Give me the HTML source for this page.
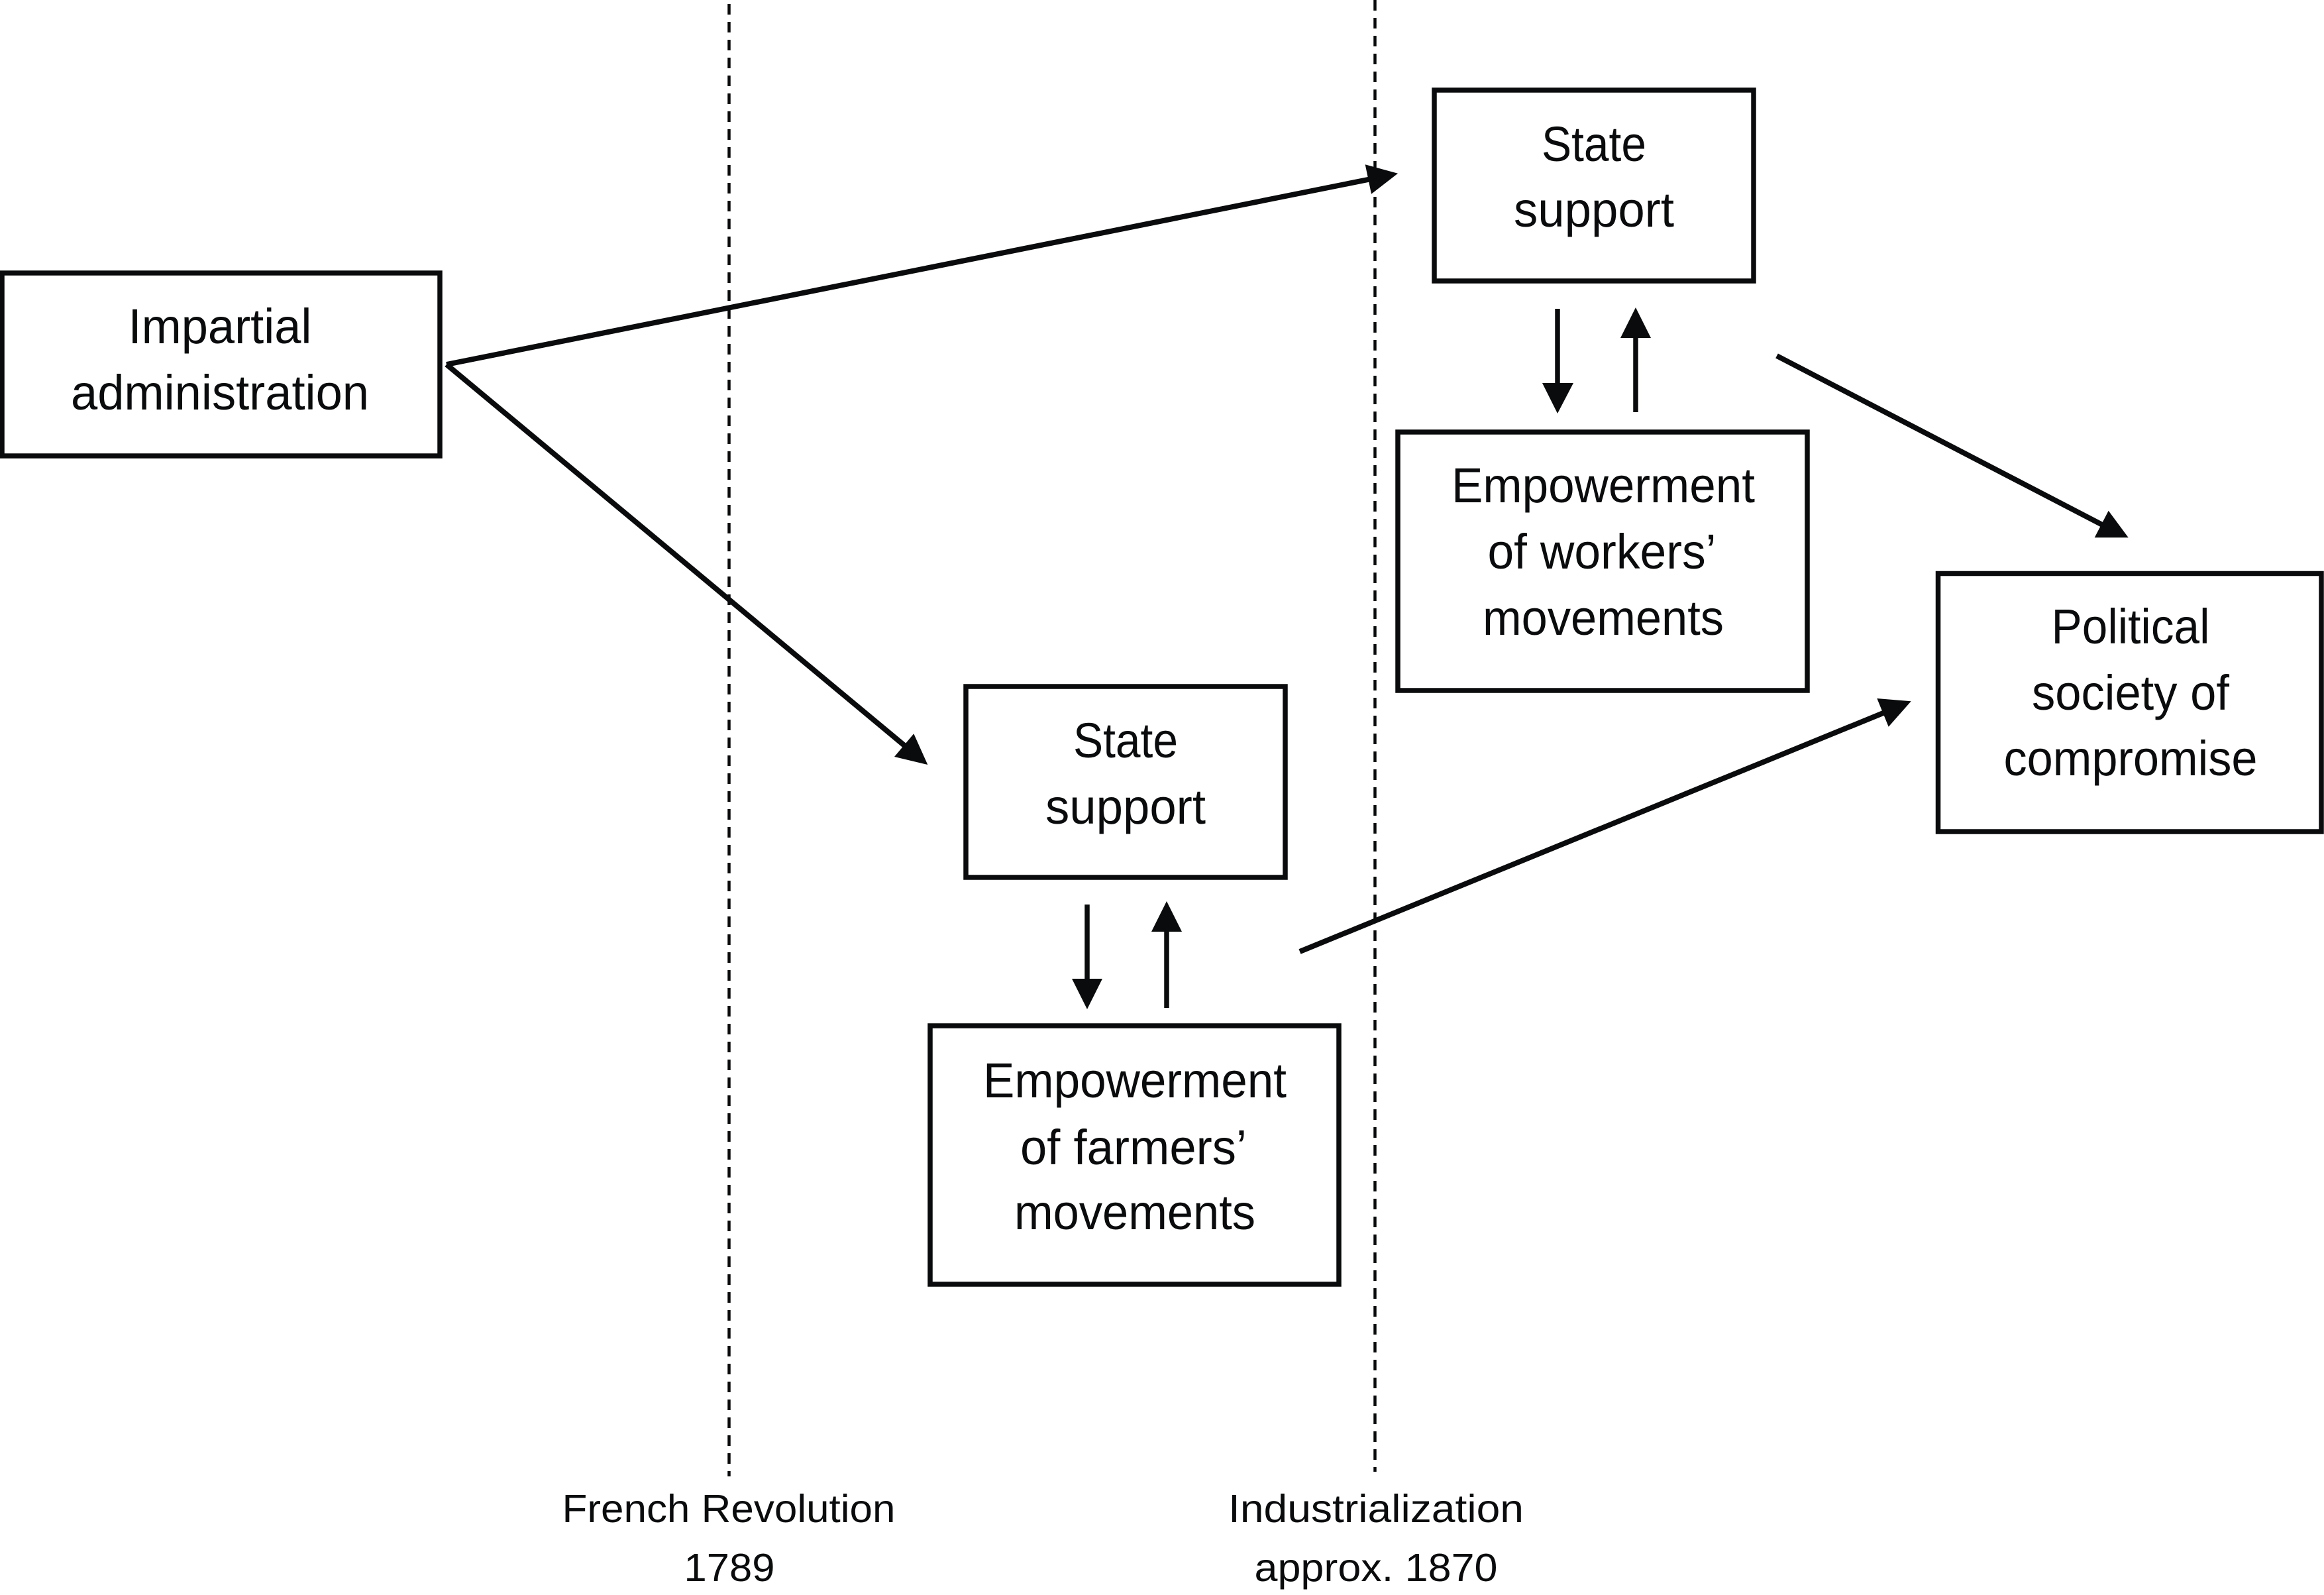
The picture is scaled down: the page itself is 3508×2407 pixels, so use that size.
<!DOCTYPE html>
<html>
<head>
<meta charset="utf-8">
<style>
html,body{margin:0;padding:0;background:#fff;width:3508px;height:2407px;overflow:hidden}
svg{display:block}
text{font-family:"Liberation Sans",sans-serif;fill:#0a0b0c;text-anchor:middle}
.a{font-size:74px}
.b{font-size:59px}
rect{fill:#fff;stroke:#0a0b0c;stroke-width:7.5}
.l{stroke:#0a0b0c;stroke-width:8;fill:none}
.v{stroke:#0a0b0c;stroke-width:7.5;fill:none}
.h{fill:#0a0b0c;stroke:none}
.d{stroke:#0a0b0c;stroke-width:4.5;stroke-dasharray:16 11;fill:none}
</style>
</head>
<body>
<svg width="3508" height="2407" viewBox="0 0 3508 2407" xmlns="http://www.w3.org/2000/svg">
<line class="d" x1="1100.5" y1="0" x2="1100.5" y2="2228" stroke-dashoffset="-6"/>
<line class="d" x1="2075.5" y1="0" x2="2075.5" y2="2221"/>

<rect x="3" y="412" width="661" height="276"/>
<rect x="2165" y="136" width="482" height="288"/>
<rect x="2110" y="652" width="618" height="390"/>
<rect x="1458" y="1036" width="482" height="288"/>
<rect x="1404" y="1548" width="617" height="390"/>
<rect x="2925.5" y="865.5" width="578.5" height="389.5"/>

<text class="a" x="332" y="518" textLength="277" lengthAdjust="spacingAndGlyphs">Impartial</text>
<text class="a" x="332" y="618" textLength="450" lengthAdjust="spacingAndGlyphs">administration</text>
<text class="a" x="2406" y="243" textLength="158" lengthAdjust="spacingAndGlyphs">State</text>
<text class="a" x="2406" y="342" textLength="242" lengthAdjust="spacingAndGlyphs">support</text>
<text class="a" x="2420" y="758" textLength="458" lengthAdjust="spacingAndGlyphs">Empowerment</text>
<text class="a" x="2418" y="858" textLength="345" lengthAdjust="spacingAndGlyphs">of workers’</text>
<text class="a" x="2420" y="958" textLength="364" lengthAdjust="spacingAndGlyphs">movements</text>
<text class="a" x="1699" y="1143" textLength="158" lengthAdjust="spacingAndGlyphs">State</text>
<text class="a" x="1699" y="1243" textLength="242" lengthAdjust="spacingAndGlyphs">support</text>
<text class="a" x="1713" y="1656" textLength="458" lengthAdjust="spacingAndGlyphs">Empowerment</text>
<text class="a" x="1711" y="1757" textLength="342" lengthAdjust="spacingAndGlyphs">of farmers’</text>
<text class="a" x="1713" y="1855" textLength="364" lengthAdjust="spacingAndGlyphs">movements</text>
<text class="a" x="3216" y="971" textLength="239" lengthAdjust="spacingAndGlyphs">Political</text>
<text class="a" x="3216" y="1071" textLength="298" lengthAdjust="spacingAndGlyphs">society of</text>
<text class="a" x="3216" y="1170" textLength="383" lengthAdjust="spacingAndGlyphs">compromise</text>
<text class="b" x="1100" y="2297" textLength="503" lengthAdjust="spacingAndGlyphs">French Revolution</text>
<text class="b" x="1101" y="2386" textLength="137" lengthAdjust="spacingAndGlyphs">1789</text>
<text class="b" x="2077" y="2297" textLength="446" lengthAdjust="spacingAndGlyphs">Industrialization</text>
<text class="b" x="2077" y="2386" textLength="367" lengthAdjust="spacingAndGlyphs">approx. 1870</text>

<!-- long arrows -->
<line class="l" x1="674" y1="550" x2="2075" y2="269"/>
<polygon class="h" points="2110,261.7 2060.7,248.3 2070,292.7"/>
<line class="l" x1="674" y1="550" x2="1370" y2="1129"/>
<polygon class="h" points="1400.3,1154 1379.3,1107.3 1350,1142"/>
<line class="l" x1="2682" y1="537" x2="3185" y2="798"/>
<polygon class="h" points="3212.7,811.3 3182.7,770.7 3161.7,811.3"/>
<line class="l" x1="1962" y1="1436" x2="2850" y2="1073"/>
<polygon class="h" points="2884.7,1058.3 2833.3,1054 2850.7,1096.7"/>

<!-- short vertical arrows -->
<line class="v" x1="2351" y1="466" x2="2351" y2="580"/>
<polygon class="h" points="2351,624 2328,578 2375,578"/>
<line class="v" x1="2469" y1="622" x2="2469" y2="505"/>
<polygon class="h" points="2469,464 2446,510 2492,510"/>
<line class="v" x1="1641" y1="1365" x2="1641" y2="1480"/>
<polygon class="h" points="1641,1523 1618,1477 1664,1477"/>
<line class="v" x1="1761" y1="1521" x2="1761" y2="1405"/>
<polygon class="h" points="1761,1360 1738,1406 1784,1406"/>
</svg>
</body>
</html>
